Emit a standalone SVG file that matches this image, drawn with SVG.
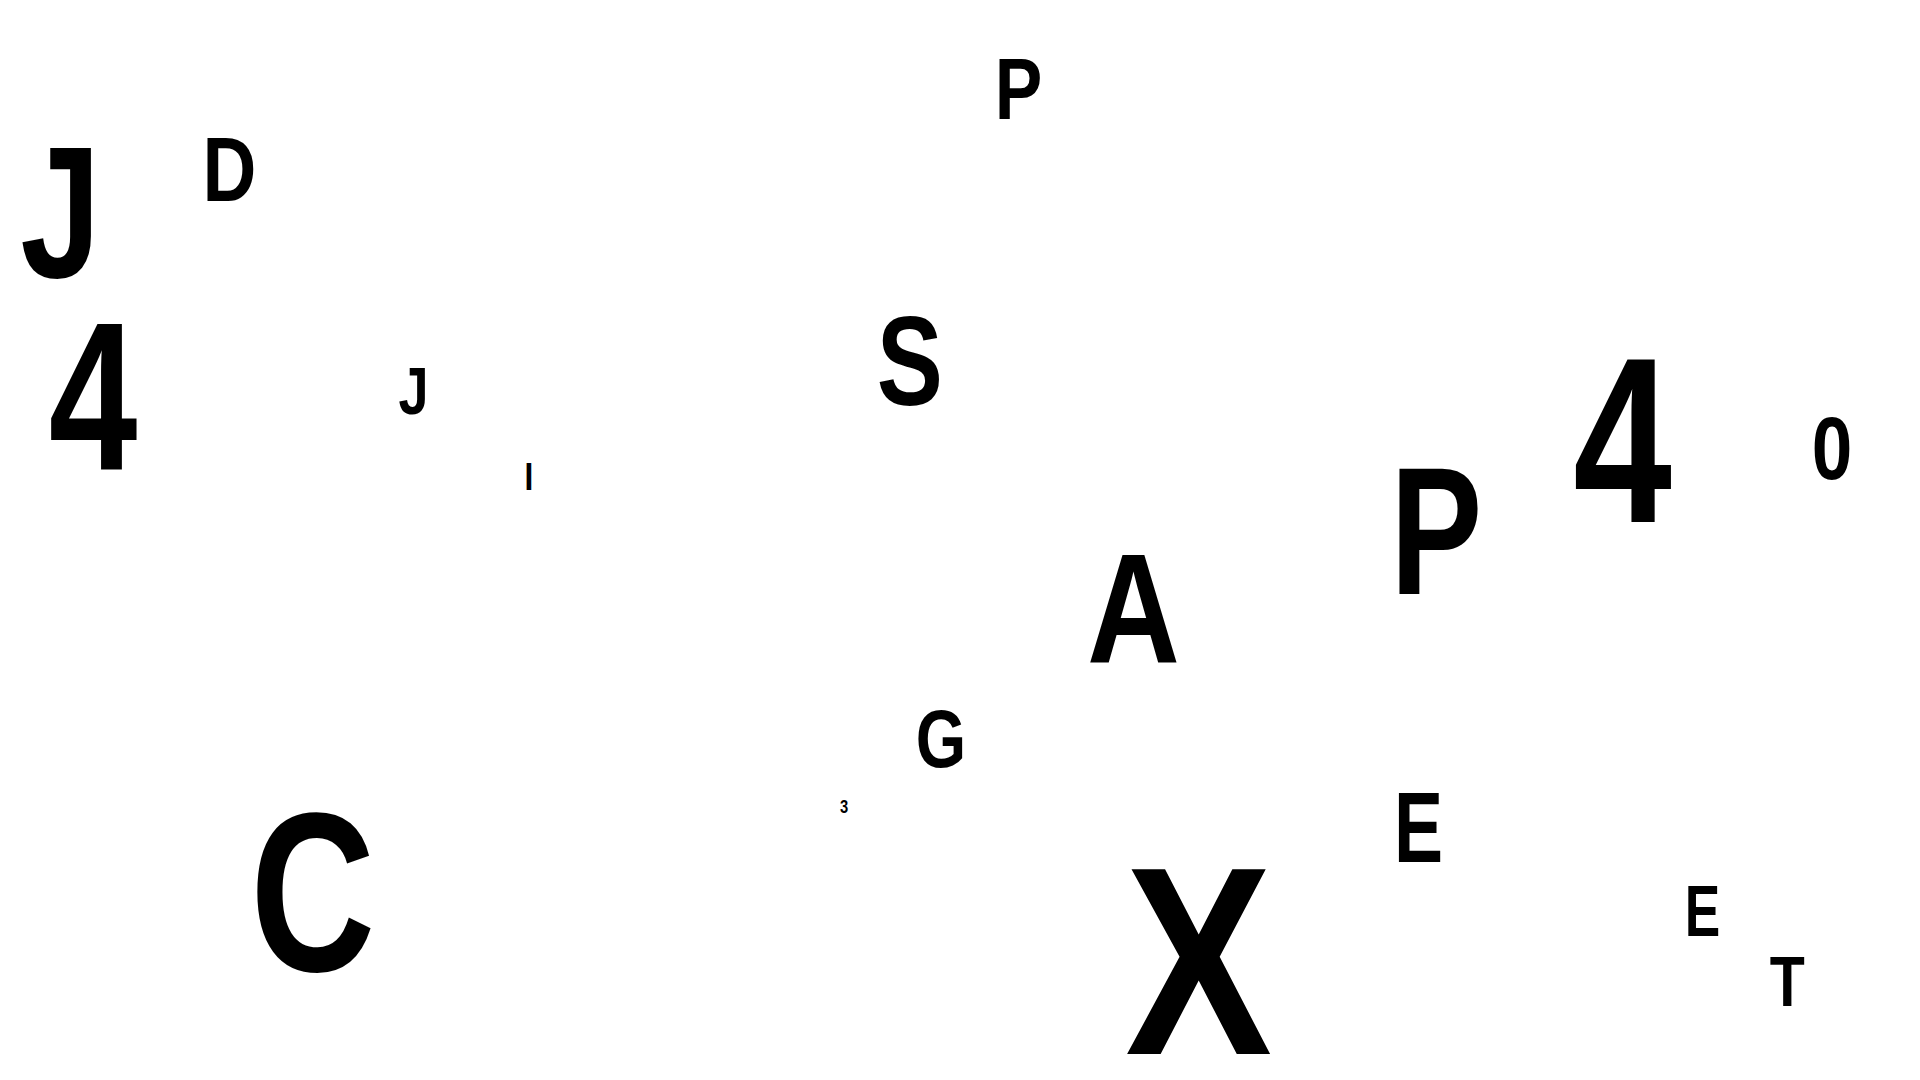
<svg xmlns="http://www.w3.org/2000/svg" width="1920" height="1080" viewBox="0 0 1920 1080">
<style>
.ch{fill:#000;text-anchor:middle}
</style>
<rect width="1920" height="1080" fill="#fff"/>
<g id="connectors"/>
<g id="nodes" font-family="'Liberation Sans', sans-serif" font-weight="bold">
<g id="n-J1" transform="translate(60.5,277) scale(0.77,1)"><text class="ch" font-size="188">J</text></g>
<g id="n-D" transform="translate(229.5,201) scale(0.82,1)"><text class="ch" font-size="91">D</text></g>
<g id="n-4a" transform="translate(93,470) scale(0.755,1)"><text class="ch" font-size="211">4</text></g>
<g id="n-J2" transform="translate(413.5,414) scale(0.82,1)"><text class="ch" font-size="66">J</text></g>
<g id="n-I" transform="translate(529,489.7) scale(0.82,1)"><text class="ch" font-size="38.5">I</text></g>
<g id="n-P1" transform="translate(1018.5,119) scale(0.81,1)"><text class="ch" font-size="88">P</text></g>
<g id="n-S" transform="translate(909.8,405) scale(0.78,1)"><text class="ch" font-size="127">S</text></g>
<g id="n-4b" transform="translate(1622.5,522) scale(0.75,1)"><text class="ch" font-size="236.5">4</text></g>
<g id="n-0" transform="translate(1832,478.7) scale(0.82,1)"><text class="ch" font-size="89">0</text></g>
<g id="n-P2" transform="translate(1436.2,594) scale(0.762,1)"><text class="ch" font-size="181">P</text></g>
<g id="n-A" transform="translate(1133.4,661.6) scale(0.83,1)"><text class="ch" font-size="155">A</text></g>
<g id="n-G" transform="translate(941,767.3) scale(0.79,1)"><text class="ch" font-size="82">G</text></g>
<g id="n-3" transform="translate(844,812.8) scale(0.82,1)"><text class="ch" font-size="18">3</text></g>
<g id="n-X" transform="translate(1198.6,1054) scale(0.82,1)"><text class="ch" font-size="268.5">X</text></g>
<g id="n-C" transform="translate(312.8,970.5) scale(0.766,1)"><text class="ch" font-size="226">C</text></g>
<g id="n-E1" transform="translate(1418.6,862) scale(0.736,1)"><text class="ch" font-size="100">E</text></g>
<g id="n-E2" transform="translate(1702.6,936) scale(0.745,1)"><text class="ch" font-size="71.5">E</text></g>
<g id="n-T" transform="translate(1787.4,1006) scale(0.82,1)"><text class="ch" font-size="70">T</text></g>
</g>
</svg>
